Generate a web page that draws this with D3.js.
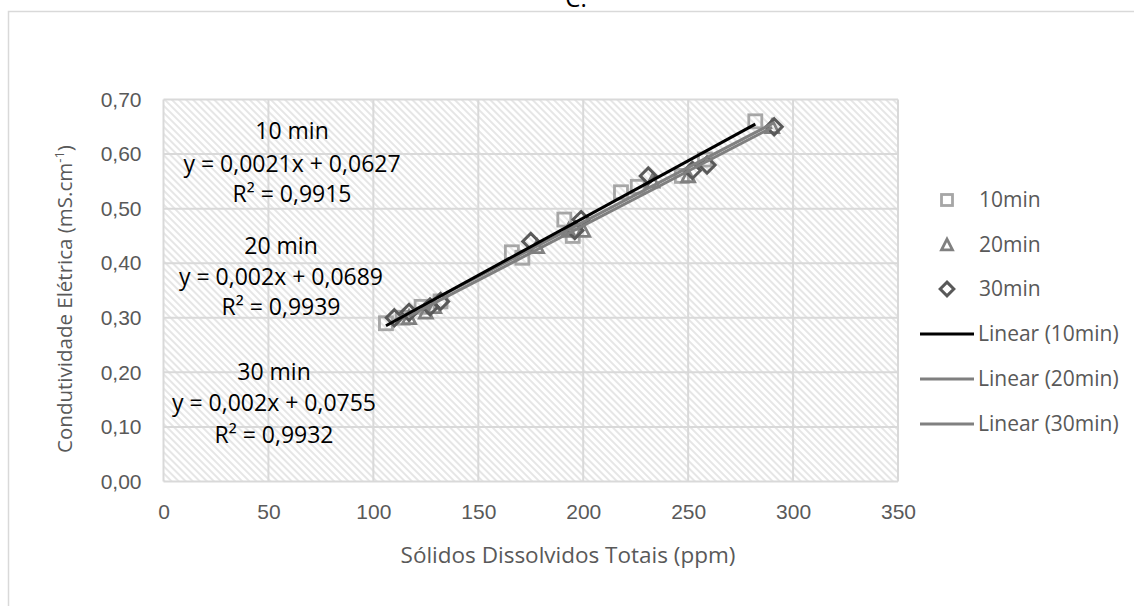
<!DOCTYPE html>
<html>
<head>
<meta charset="utf-8">
<script src="https://cdn.jsdelivr.net/npm/d3@7"></script>
<style>
  body { margin: 0; background: #fff; }
  svg { display: block; font-family: "Open Sans", "Noto Sans", sans-serif; }
</style>
</head>
<body>
<div id="chart"></div>
<script>
// series
const x10 = [106, 114, 123, 132, 166, 171, 191, 195, 218, 226, 247, 258, 282];
const y10 = [0.29, 0.30, 0.32, 0.33, 0.42, 0.41, 0.48, 0.45, 0.53, 0.54, 0.56, 0.59, 0.66];
const x20 = [117, 125, 129, 178, 193, 200, 233, 250, 290];
const y20 = [0.30, 0.31, 0.32, 0.43, 0.46, 0.46, 0.55, 0.56, 0.65];
const x30 = [110, 117, 127, 132, 175, 196, 199, 231, 252, 259, 291];
const y30 = [0.30, 0.31, 0.32, 0.33, 0.44, 0.46, 0.48, 0.56, 0.57, 0.58, 0.65];

// trendline coefficients as printed
const slopes = [0.0021, 0.002, 0.002];
const intercepts = [0.0627, 0.0689, 0.0755];
const r2 = ['0,9915', '0,9939', '0,9932'];
const seriesNames = ['10min', '20min', '30min'];
const blockTitles = ['10 min', '20 min', '30 min'];
const eqLabels = ['y = 0,0021x + 0,0627', 'y = 0,002x + 0,0689', 'y = 0,002x + 0,0755'];

const xTicks = [0, 50, 100, 150, 200, 250, 300, 350];
const yTicks = [0, 0.1, 0.2, 0.3, 0.4, 0.5, 0.6, 0.7];

const width = 1134, height = 606;
const plot = { left: 163.5, right: 898, top: 99.5, bottom: 481.5 };
const grid = '#d9d9d9';
const textGray = '#595959';

const svg = d3.select('#chart').append('svg')
  .attr('width', width)
  .attr('height', height);

// hatch fill of the plot area (light downward diagonal)
const defs = svg.append('defs');
const pat = defs.append('pattern')
  .attr('id', 'hatch')
  .attr('patternUnits', 'userSpaceOnUse')
  .attr('width', 5)
  .attr('height', 5)
  .attr('patternTransform', 'rotate(-45)');
pat.append('rect').attr('width', 5).attr('height', 5).attr('fill', '#fff');
pat.append('line')
  .attr('x1', 1).attr('y1', 0).attr('x2', 1).attr('y2', 5)
  .attr('stroke', '#dcdcdc').attr('stroke-width', 1.4);

// chart frame
svg.append('rect')
  .attr('x', 8.5).attr('y', 11.5)
  .attr('width', 1200).attr('height', 700)
  .attr('fill', 'none').attr('stroke', grid).attr('stroke-width', 1.5);

svg.append('text')
  .attr('x', 576).attr('y', 7)
  .attr('text-anchor', 'middle')
  .attr('font-size', 24)
  .attr('fill', '#000')
  .text('C.');

const x = d3.scaleLinear().domain([0, 350]).range([plot.left, plot.right]);
const y = d3.scaleLinear().domain([0, 0.7]).range([plot.bottom, plot.top]);

svg.append('rect')
  .attr('x', plot.left).attr('y', plot.top)
  .attr('width', plot.right - plot.left)
  .attr('height', plot.bottom - plot.top)
  .attr('fill', 'url(#hatch)');

// gridlines
svg.append('g')
  .selectAll('line')
  .data(xTicks)
  .join('line')
  .attr('x1', d => x(d)).attr('x2', d => x(d))
  .attr('y1', plot.top).attr('y2', plot.bottom)
  .attr('stroke', grid).attr('stroke-width', 2);

svg.append('g')
  .selectAll('line')
  .data(yTicks)
  .join('line')
  .attr('x1', plot.left).attr('x2', plot.right)
  .attr('y1', d => y(d)).attr('y2', d => y(d))
  .attr('stroke', grid).attr('stroke-width', 2);

// axes (labels only, Excel style)
const fmtY = d => d3.format('.2f')(d).replace('.', ',');

const xAxis = svg.append('g')
  .attr('transform', `translate(0,${plot.bottom})`)
  .call(d3.axisBottom(x).tickValues(xTicks).tickSize(0).tickPadding(23));
xAxis.select('.domain').remove();
xAxis.selectAll('text')
  .attr('font-size', 21).attr('font-family', null).attr('fill', textGray);

const yAxis = svg.append('g')
  .attr('transform', `translate(${plot.left},0)`)
  .call(d3.axisLeft(y).tickValues(yTicks).tickFormat(fmtY).tickSize(0).tickPadding(22));
yAxis.select('.domain').remove();
yAxis.selectAll('text')
  .attr('font-size', 21).attr('font-family', null).attr('fill', textGray);

// axis titles
svg.append('text')
  .attr('x', 568).attr('y', 563)
  .attr('text-anchor', 'middle')
  .attr('font-size', 22.5)
  .attr('fill', textGray)
  .text('Sólidos Dissolvidos Totais (ppm)');

const yTitle = svg.append('text')
  .attr('transform', 'translate(72,299) rotate(-90)')
  .attr('text-anchor', 'middle')
  .attr('font-size', 20.5)
  .attr('fill', textGray);
yTitle.append('tspan').text('Condutividade Elétrica  (mS.cm');
yTitle.append('tspan').attr('font-size', 13).attr('dy', -8).text('-1');
yTitle.append('tspan').attr('dy', 8).text(')');

// markers
const markerColors = ['#a6a6a6', '#808080', '#595959'];
const lineColors = ['#000000', '#7f7f7f', '#808080'];

function drawMarker(g, kind, cx, cy, s) {
  if (kind === 0) {
    g.append('rect')
      .attr('x', cx - s / 2).attr('y', cy - s / 2)
      .attr('width', s).attr('height', s)
      .attr('fill', 'none').attr('stroke', markerColors[0]).attr('stroke-width', 2.8);
  } else if (kind === 1) {
    const h = s * 0.9;
    g.append('path')
      .attr('d', `M${cx},${cy - h / 2 - 1}L${cx + s / 2},${cy + h / 2}L${cx - s / 2},${cy + h / 2}Z`)
      .attr('fill', 'none').attr('stroke', markerColors[1]).attr('stroke-width', 2.8);
  } else {
    const r = s * 0.62;
    g.append('path')
      .attr('d', `M${cx},${cy - r}L${cx + r},${cy}L${cx},${cy + r}L${cx - r},${cy}Z`)
      .attr('fill', 'none').attr('stroke', markerColors[2]).attr('stroke-width', 3);
  }
}

const series = [
  { xs: x10, ys: y10 },
  { xs: x20, ys: y20 },
  { xs: x30, ys: y30 }
];

const markG = svg.append('g');
series.forEach((s, i) => {
  s.xs.forEach((v, j) => drawMarker(markG, i, x(v), y(s.ys[j]), 13));
});

// trendlines over each series' x range
const lineG = svg.append('g');
[2, 1, 0].forEach(i => {
  const ext = d3.extent(series[i].xs);
  lineG.append('line')
    .attr('x1', x(ext[0])).attr('y1', y(slopes[i] * ext[0] + intercepts[i]))
    .attr('x2', x(ext[1])).attr('y2', y(slopes[i] * ext[1] + intercepts[i]))
    .attr('stroke', lineColors[i]).attr('stroke-width', 3);
});

// equation labels
const blockX = [292, 281, 274];
const blockY = [[131, 164, 194], [246, 277, 307], [372, 403, 435]];
const annG = svg.append('g')
  .attr('font-size', 23)
  .attr('fill', '#000')
  .attr('text-anchor', 'middle');
[0, 1, 2].forEach(i => {
  [blockTitles[i], eqLabels[i], 'R² = ' + r2[i]].forEach((t, k) => {
    annG.append('text')
      .attr('x', blockX[i]).attr('y', blockY[i][k])
      .attr('dy', '0.35em')
      .text(t);
  });
});

// legend
const legG = svg.append('g').attr('font-size', 21).attr('fill', textGray);
const legRows = [200, 245, 289, 334, 379, 424];
[0, 1, 2].forEach(i => {
  drawMarker(legG, i, 947, legRows[i], 11);
  legG.append('text')
    .attr('x', 979).attr('y', legRows[i]).attr('dy', '0.35em')
    .text(seriesNames[i]);
});
[0, 1, 2].forEach(i => {
  const ry = legRows[i + 3];
  legG.append('line')
    .attr('x1', 920).attr('x2', 974)
    .attr('y1', ry).attr('y2', ry)
    .attr('stroke', lineColors[i]).attr('stroke-width', 3);
  legG.append('text')
    .attr('x', 978).attr('y', ry).attr('dy', '0.35em')
    .text('Linear (' + seriesNames[i] + ')');
});
</script>
</body>
</html>
